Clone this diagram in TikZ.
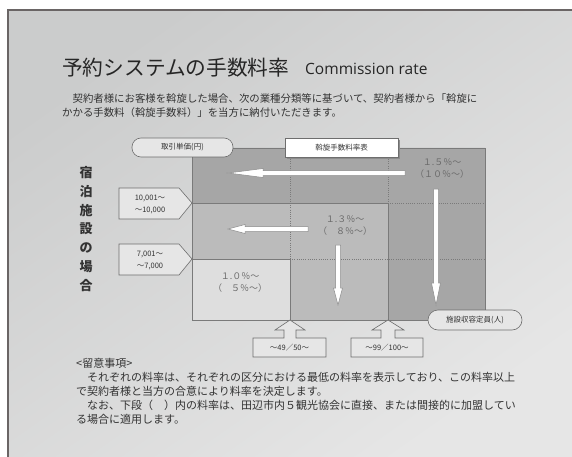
\documentclass[tikz,border=0pt]{standalone}
\usepackage{fontspec}
\setmainfont{Noto Sans CJK JP}
\newfontfamily\latinfont{Open Sans}
\usetikzlibrary{shadows}
\definecolor{frameline}{HTML}{6A6565}
\definecolor{bgUL}{HTML}{CBCCCC}
\definecolor{bgLR}{HTML}{E6E6E6}
\definecolor{darkreg}{HTML}{A6A6A6}
\definecolor{midreg}{HTML}{BBBBBB}
\definecolor{lightreg}{HTML}{DEDEDE}
\definecolor{gridline}{HTML}{7A7A7A}
\definecolor{arrowedge}{HTML}{8A8A8A}
\definecolor{tagfill}{HTML}{E6E6E6}
\definecolor{tagedge}{HTML}{6E6E6E}
\definecolor{txtgray}{HTML}{6A6A6A}
\definecolor{bodytext}{HTML}{333333}
\begin{document}
\begin{tikzpicture}[x=1pt,y=-1pt,
  arrowshape/.style={fill=white, draw=arrowedge, line width=0.5pt, line join=miter},
  tagbox/.style={fill=tagfill, draw=tagedge, line width=0.6pt},
  pill/.style={draw=tagedge, fill=tagfill, line width=0.6pt, rounded corners=9pt, minimum height=19pt, inner sep=0pt, text=bodytext, font=\fontsize{7.5}{9}\selectfont},
  ratelabel/.style={align=center, text=txtgray, font=\fontsize{9}{12}\selectfont, inner sep=0pt},
  smalltxt/.style={font=\fontsize{7.5}{12}\selectfont, inner sep=0pt, align=center, text=bodytext},
  bodytxt/.style={anchor=west, inner sep=0pt, text=bodytext, font=\fontsize{10.4}{12}\selectfont},
  notetxt/.style={anchor=west, inner sep=0pt, text=bodytext, font=\fontsize{11}{12}\selectfont},
  solidgrid/.style={draw=gridline, line width=0.6pt},
  dottedgrid/.style={draw=gridline, line width=0.6pt, dash pattern=on 1pt off 1.2pt},
]
\useasboundingbox (0,0) rectangle (572,457);
\fill[white] (0,0) rectangle (572,457);
\shade[top color=bgUL, bottom color=bgLR, shading angle=35] (8,10) rectangle (572,457);
\draw[frameline, line width=2.4pt] (8,457) -- (8,10) -- (572,10);

% title
\node[anchor=west, inner sep=0pt, font=\fontsize{20.7}{24}\selectfont, text=black!85] (titlejp) at (62,68) {予約システムの手数料率};
\node[anchor=west, inner sep=0pt, font=\latinfont\fontsize{15.5}{20}\selectfont, text=black!85] (titleen) at (305,69) {Commission rate};

% intro paragraph
\node[bodytxt] (intro1) at (62,98.5) {　契約者様にお客様を斡旋した場合、次の業種分類等に基づいて、契約者様から「斡旋に};
\node[bodytxt] (intro2) at (62,112.5) {かかる手数料（斡旋手数料）」を当方に納付いただきます。};

% vertical heading
\node[align=center, inner sep=0pt, font=\bfseries\fontsize{13}{18.7}\selectfont, text=black!80] (vhead) at (86,229) {宿\\泊\\施\\設\\の\\場\\合};

% chart regions
\fill[darkreg] (192,148) -- (485,148) -- (485,320) -- (388,320) -- (388,203) -- (192,203) -- cycle;
\fill[midreg] (192,203) -- (388,203) -- (388,320) -- (290,320) -- (290,259) -- (192,259) -- cycle;
\fill[lightreg] (192,259) rectangle (290,320);
% grid lines
\draw[dottedgrid] (290,148) -- (290,259);
\draw[dottedgrid] (388,148) -- (388,203) -- (485,203);
\draw[dottedgrid] (290,259) -- (485,259);
\draw[solidgrid] (192,203) -- (388,203) -- (388,320);
\draw[solidgrid] (192,259) -- (290,259) -- (290,320);
\draw[solidgrid] (192,148) rectangle (485,320);

% white arrows
\draw[arrowshape] (405,170.5) -- (263,170.5) -- (263,168.5) -- (228,173) -- (263,177.5) -- (263,175.5) -- (405,175.5) -- cycle;
\draw[arrowshape] (308,226.5) -- (245,226.5) -- (245,224.5) -- (228,229) -- (245,233.5) -- (245,231.5) -- (308,231.5) -- cycle;
\draw[arrowshape] (335.5,245) -- (335.5,288) -- (333.5,288) -- (338,305) -- (342.5,288) -- (340.5,288) -- (340.5,245) -- cycle;
\draw[arrowshape] (433.5,189) -- (433.5,283) -- (431.5,283) -- (436,305) -- (440.5,283) -- (438.5,283) -- (438.5,189) -- cycle;

% rate labels
\node[ratelabel] (r15) at (442,169) {１.５％～\\（１０％～）};
\node[ratelabel] (r13) at (345,225.5) {１.３％～\\（　８％～）};
\node[ratelabel] (r10) at (240,282.5) {１.０％～\\（　５％～）};

% header tags
\node[pill, minimum width=101pt] (tanka) at (182.5,147.5) {取引単価(円)};
\node[draw=tagedge, fill=white, line width=0.6pt, minimum width=113pt, minimum height=19pt, inner sep=0pt, text=bodytext, font=\fontsize{7.5}{9}\selectfont, drop shadow={shadow xshift=1.6pt, shadow yshift=-1.6pt, fill=black!45, opacity=1}] (table) at (341.5,147.5) {斡旋手数料率表};
\node[pill, minimum width=94pt, minimum height=20pt, rounded corners=10pt] (teiin) at (475,320) {施設収容定員(人)};

% left price tags
\draw[tagbox] (119,188) -- (179,188) -- (192,203) -- (179,219) -- (119,219) -- cycle;
\node[smalltxt] (p1) at (150,204) {10,001～\\～10,000};
\draw[tagbox] (119,244) -- (179,244) -- (192,259) -- (179,275) -- (119,275) -- cycle;
\node[smalltxt] (p2) at (150,260) {7,001～\\～7,000};

% bottom capacity tags
\draw[tagbox] (253,338) -- (284,338) -- (284,330) -- (275,330) -- (290,320) -- (305,330) -- (296,330) -- (296,338) -- (326,338) -- (326,357) -- (253,357) -- cycle;
\node[smalltxt] (c1) at (289.5,348) {～49／50～};
\draw[tagbox] (351,338) -- (381,338) -- (381,330) -- (372,330) -- (388,320) -- (404,330) -- (395,330) -- (395,338) -- (423,338) -- (423,357) -- (351,357) -- cycle;
\node[smalltxt] (c2) at (387,348) {～99／100～};

% notes
\node[notetxt] (n0) at (76,363) {<留意事項>};
\node[notetxt] (n1) at (76,377) {　それぞれの料率は、それぞれの区分における最低の料率を表示しており、この料率以上};
\node[notetxt] (n2) at (76,391) {で契約者様と当方の合意により料率を決定します。};
\node[notetxt] (n3) at (76,405) {　なお、下段（　）内の料率は、田辺市内５観光協会に直接、または間接的に加盟してい};
\node[notetxt] (n4) at (76,419) {る場合に適用します。};
\end{tikzpicture}
\end{document}
